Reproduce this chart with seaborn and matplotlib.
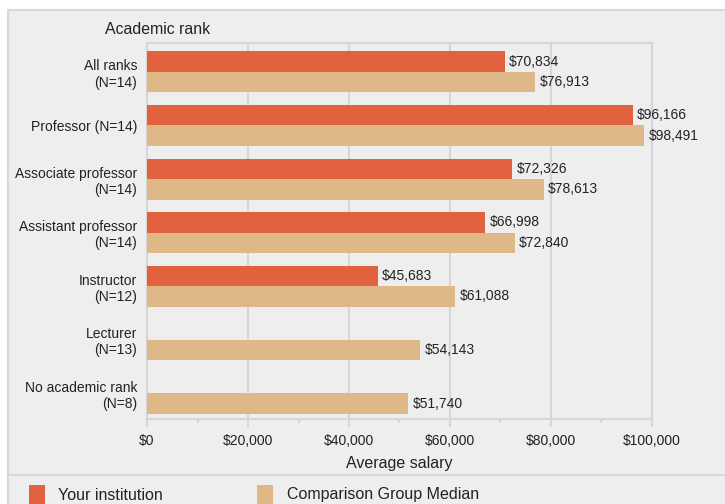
import matplotlib
matplotlib.use("Agg")
import matplotlib.pyplot as plt
from matplotlib.patches import Rectangle
from matplotlib.lines import Line2D
from matplotlib.ticker import MultipleLocator, FuncFormatter
import numpy as np
import pandas as pd
import seaborn as sns

# ---- data ----
ranks = [
    "All ranks\n(N=14)",
    "Professor (N=14)",
    "Associate professor\n(N=14)",
    "Assistant professor\n(N=14)",
    "Instructor\n(N=12)",
    "Lecturer\n(N=13)",
    "No academic rank\n(N=8)",
]
series = ["Your institution", "Comparison Group Median"]
your_institution = [70834, 96166, 72326, 66998, 45683, np.nan, np.nan]
comparison_median = [76913, 98491, 78613, 72840, 61088, 54143, 51740]
x_ticks = [0, 20000, 40000, 60000, 80000, 100000]

colors = ["#E26240", "#DEB887"]
panel_bg = "#EEEEEE"
line_gray = "#D6D6D6"
text_color = "#222222"

rows = []
for r, a, b in zip(ranks, your_institution, comparison_median):
    if not np.isnan(a):
        rows.append((r, series[0], a))
    rows.append((r, series[1], b))
df = pd.DataFrame(rows, columns=["rank", "series", "salary"])

sns.set_theme(style="white")
plt.rcParams["font.family"] = ["Liberation Sans", "DejaVu Sans"]
plt.rcParams["text.color"] = text_color

W, H = 725, 504
fig = plt.figure(figsize=(W / 100, H / 100), dpi=100)
fig.patch.set_facecolor("white")

# grey panel behind the whole chart
fig.patches.append(Rectangle((8 / W, -0.01), 1.0, (H - 10) / H + 0.01,
                             transform=fig.transFigure, facecolor=panel_bg,
                             edgecolor="#D9D9D9", linewidth=1.5, zorder=-2))
# separator above the legend strip
fig.lines.append(Line2D([8 / W, 1.0], [1 - 474.5 / H, 1 - 474.5 / H],
                        transform=fig.transFigure, color="#D9D9D9",
                        linewidth=1.5, zorder=-1))

ax = fig.add_axes([147 / W, 1 - 419 / H, (652 - 147) / W, (419 - 43) / H])
ax.set_facecolor(panel_bg)

sns.barplot(data=df, y="rank", x="salary", hue="series", order=ranks,
            hue_order=series, palette=colors, saturation=1, width=0.765,
            orient="h", ax=ax, zorder=3, linewidth=0, edgecolor="none")

for cont in ax.containers:
    ax.bar_label(cont, fmt=lambda v: f"${v:,.0f}", padding=3,
                 fontsize=10, color=text_color)

ax.set_xlim(0, 100000)
ax.set_ylim(6.48, -0.54)
ax.set_xticks(x_ticks)
ax.xaxis.set_major_formatter(FuncFormatter(lambda v, p: f"${v:,.0f}"))
ax.xaxis.set_minor_locator(MultipleLocator(10000))
ax.tick_params(axis="x", which="major", length=5.5, width=1.5, color=line_gray,
               labelsize=10, labelcolor=text_color, pad=5, bottom=True)
ax.tick_params(axis="x", which="minor", length=3, width=1.5, color=line_gray,
               bottom=True)
ax.tick_params(axis="y", length=0, labelsize=10, labelcolor=text_color, pad=7)
for lbl in ax.get_yticklabels():
    lbl.set_horizontalalignment("right")
    lbl.set_multialignment("right")

ax.grid(axis="x", color=line_gray, linewidth=1.5, zorder=0)
ax.set_axisbelow(True)
for s in ax.spines.values():
    s.set_visible(True)
    s.set_color(line_gray)
    s.set_linewidth(1.5)

ax.set_ylabel("")
ax.set_xlabel("Average salary", fontsize=11.5, color=text_color, labelpad=6)
ax.get_legend().remove()

fig.text(105 / W, 1 - 29 / H, "Academic rank", fontsize=11.4,
         ha="left", va="center", color=text_color)

# legend strip
legend_items = [(29, 58), (257, 287)]
for (sx, tx), name, col in zip(legend_items, series, colors):
    fig.patches.append(Rectangle((sx / W, 1 - 505 / H), 16 / W, 20 / H,
                                 transform=fig.transFigure, facecolor=col,
                                 edgecolor="none", zorder=2))
    fig.text(tx / W, 1 - 495 / H, name, fontsize=11.5, ha="left",
             va="center", color=text_color)

fig.savefig("out.png", dpi=100)
